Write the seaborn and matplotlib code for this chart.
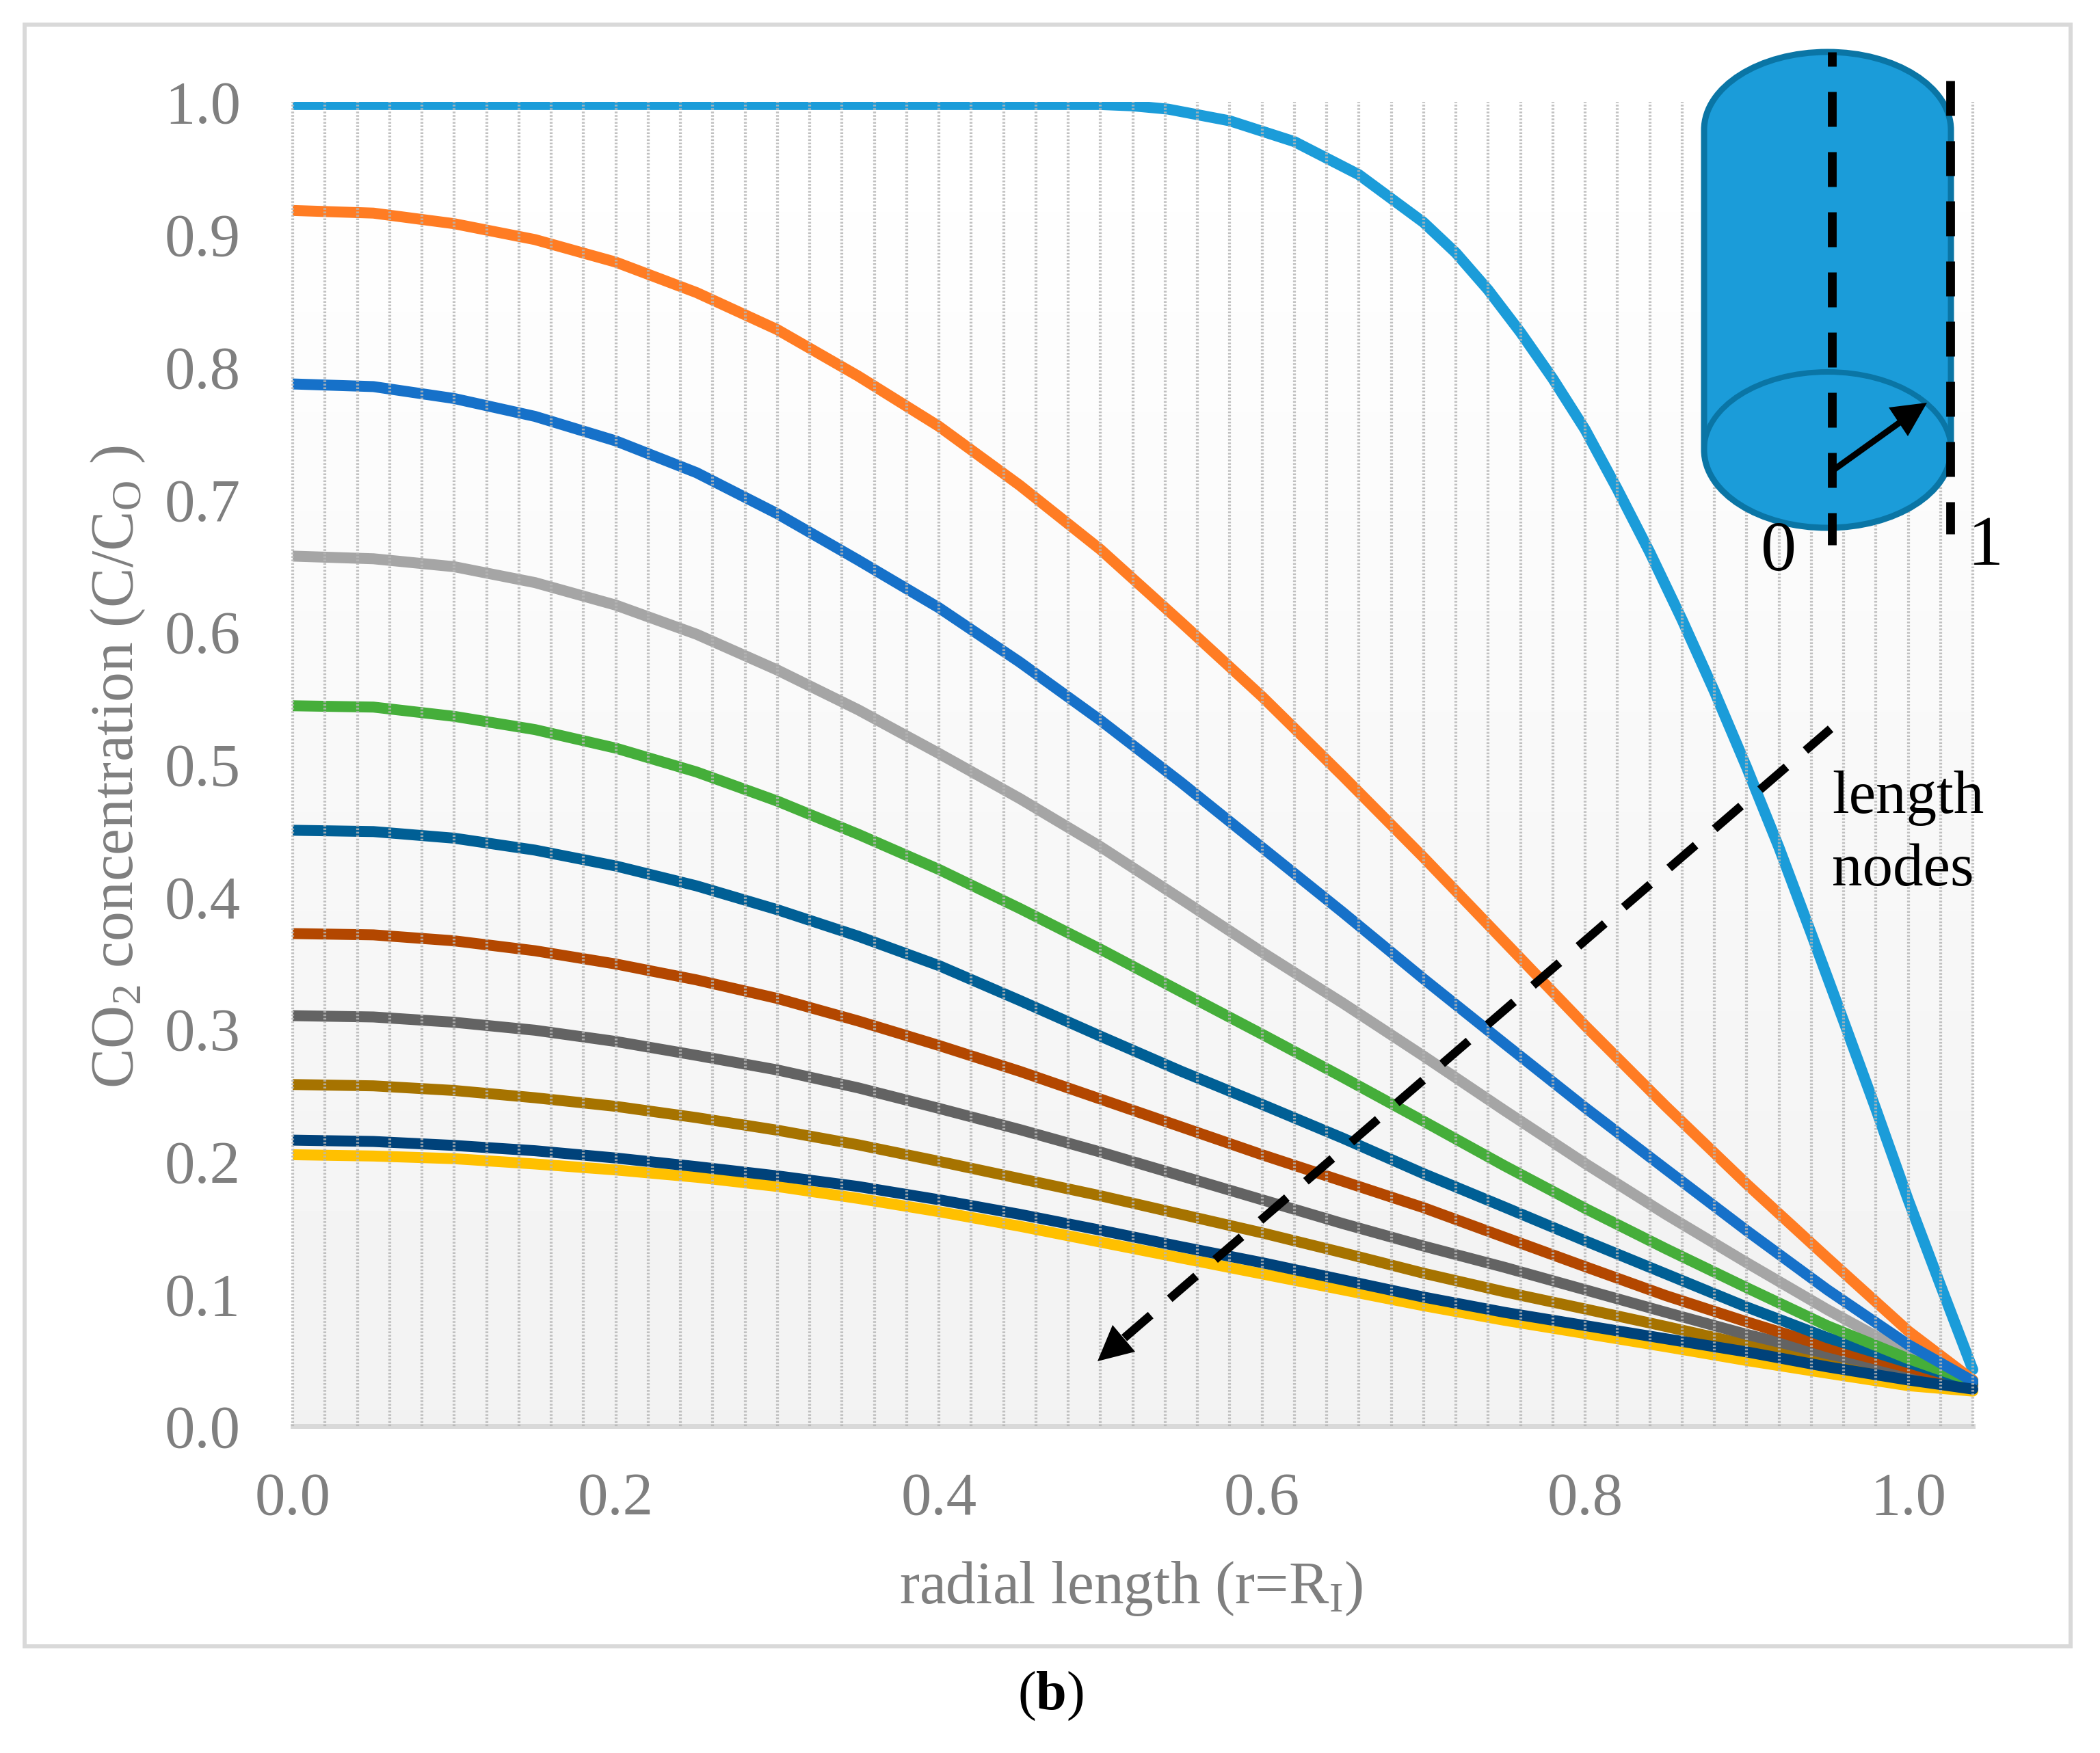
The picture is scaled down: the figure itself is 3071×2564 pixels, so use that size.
import numpy as np
import pandas as pd
import matplotlib
matplotlib.use("Agg")
import matplotlib.pyplot as plt
import seaborn as sns
from matplotlib.patches import Rectangle, PathPatch, Polygon
from matplotlib.path import Path

W, H = 3071, 2564
sns.set_theme(style="white")
plt.rcParams['font.family'] = ['Liberation Serif', 'DejaVu Serif']
plt.rcParams['mathtext.fontset'] = 'custom'
plt.rcParams['mathtext.rm'] = 'Liberation Serif'
plt.rcParams['mathtext.it'] = 'Liberation Serif:italic'
plt.rcParams['mathtext.bf'] = 'Liberation Serif:bold'

# ---- data ----
r_first = [0, .1, .2, .3, .4, .5, .52, .542, .58, .62, .66, .70, .72, .74, .76, .78, .80, .82, .84, .86, .88,
           .90, .92, .94, .96, .98, 1.0, 1.02, 1.04]
v_first = [.998, .998, .998, .998, .998, .998, .997, .9945, .9857, .970, .945, .909, .886, .858, .826, .791, .7526,
           .7075, .660, .609, .555, .4975, .437, .372, .306, .2395, .1709, .1064, .0427]

r_nodes = [0, .05, .1, .15, .2, .25, .3, .35, .4, .45, .5, .55, .6, .65, .7, .75, .8, .85, .9, .95, 1.0, 1.04]
v_orange = [.918, .916, .908, .896, .879, .856, .828, .793, .755, .7105, .662, .607, .551, .491, .4295, .366, .3025, .2415, .1829, .127, .0719, .0349]
v_blue = [.787, .785, .776, .7625, .744, .720, .689, .654, .618, .577, .533, .486, .437, .388, .3378, .289, .2406, .194, .1477, .103, .0616, .034]
v_gray = [.657, .655, .649, .637, .620, .598, .571, .541, .508, .474, .4376, .398, .358, .3195, .2795, .2385, .1984, .160, .1235, .088, .0547, .034]
v_green = [.544, .543, .536, .526, .512, .494, .472, .447, .4204, .391, .3602, .328, .296, .2635, .2303, .1967, .1645, .134, .1046, .0758, .051, .034]
v_dkblue = [.45, .449, .444, .435, .423, .408, .390, .370, .3478, .3215, .2945, .268, .243, .2175, .1907, .1655, .14, .115, .09, .0668, .048, .033]
v_brown = [.372, .371, .3665, .359, .349, .337, .323, .306, .2875, .268, .247, .226, .205, .185, .165, .1427, .1205, .0986, .0788, .060, .0444, .033]
v_dkgray = [.31, .309, .305, .299, .2905, .28, .269, .2555, .240, .224, .207, .189, .171, .153, .136, .120, .103, .086, .0693, .0547, .0418, .032]
v_gold = [.258, .257, .2535, .248, .2415, .233, .2235, .2125, .2, .187, .174, .16, .146, .131, .1155, .1015, .0885, .0753, .0616, .05, .040, .031]
v_navy = [.216, .215, .212, .208, .2025, .196, .189, .181, .171, .16, .148, .1355, .1235, .1105, .0975, .086, .076, .066, .0561, .0448, .0349, .028]
v_yellow = [.205, .204, .202, .198, .1935, .188, .181, .172, .162, .151, .139, .127, .115, .103, .091, .080, .070, .0600, .0496, .040, .0306, .0265]

node_series = {"n10": v_yellow, "n1": v_orange, "n2": v_blue, "n3": v_gray, "n4": v_green,
               "n5": v_dkblue, "n6": v_brown, "n7": v_dkgray, "n8": v_gold, "n9": v_navy}
colors = {"n0": "#1B9CD9", "n1": "#FF7C23", "n2": "#1671C9", "n3": "#A5A5A5", "n4": "#45AE3A",
          "n5": "#005F95", "n6": "#B34700", "n7": "#636363", "n8": "#A67300", "n9": "#00427A", "n10": "#FFC000"}
draw_order = ["n10", "n0", "n1", "n3", "n8", "n7", "n6", "n5", "n4", "n2", "n9"]

xticks = [0, .2, .4, .6, .8, 1.0]
yticks = [0, .1, .2, .3, .4, .5, .6, .7, .8, .9, 1.0]

frames = [pd.DataFrame({"r": r_first, "c": v_first, "node": "n0"})]
for k, v in node_series.items():
    frames.append(pd.DataFrame({"r": r_nodes, "c": v, "node": k}))
df = pd.concat(frames, ignore_index=True)

# ---- layout in pixels ----
AL, AR, AT, AB = 428, 2885, 149, 2086
GRAY = "#7F7F7F"
FS = 64
px = 0.72

fig = plt.figure(figsize=(W / 100, H / 100), dpi=100, facecolor="white")
ax = fig.add_axes([AL / W, 1 - AB / H, (AR - AL) / W, (AB - AT) / H])
ax.set_xlim(0, 1.04)
ax.set_ylim(0, 1)
ax.set_facecolor("white")

grad = np.linspace(255, 242, 64).reshape(-1, 1)
ax.imshow(grad, extent=(0, 1.04, 0, 1), origin="upper", aspect="auto", cmap="gray",
          vmin=0, vmax=255, zorder=0, interpolation="bilinear")

sns.lineplot(data=df, x="r", y="c", hue="node", hue_order=draw_order, palette=colors,
             estimator=None, sort=False, legend=False, linewidth=16 * px, ax=ax, zorder=2)
clip = Rectangle((0, 0), 1.06, 1, transform=ax.transData)
for ln in ax.lines:
    ln.set_solid_capstyle("round")
    ln.set_solid_joinstyle("round")
    ln.set_clip_path(clip)

for g in np.arange(0, 53) * 0.02:
    ax.axvline(g, color="#B6B6B6", lw=4.2 * px, ls=(0, (0.6, 0.6)), zorder=3, alpha=.85, clip_on=False)

for s in ["top", "right", "left"]:
    ax.spines[s].set_visible(False)
ax.spines["bottom"].set_color("#D9D9D9")
ax.spines["bottom"].set_linewidth(7 * px)
ax.spines["bottom"].set_zorder(1)

ax.set_xticks(xticks, [f"{t:.1f}" for t in xticks])
ax.set_yticks(yticks, [f"{t:.1f}" for t in yticks])
ax.tick_params(axis="both", length=0, labelsize=FS, labelcolor=GRAY)
ax.tick_params(axis="x", pad=67 * px)
ax.tick_params(axis="y", pad=76 * px)
ax.grid(False)
ax.set_xlabel(r"radial length (r=R$_{\mathrm{I}}$)", fontsize=63, color=GRAY)
ax.set_ylabel(r"CO$_{2}$ concentration (C/C$_{\mathrm{O}}$ )", fontsize=63, color=GRAY)
to_ax = ax.transAxes.inverted()
def axc(x, y):
    return to_ax.transform((x, H - y))
ax.xaxis.set_label_coords(*axc(1654, 2323))
ax.xaxis.label.set_va("center")
ax.yaxis.set_label_coords(*axc(173, 1121))
ax.yaxis.label.set_va("center")

# ---- overlay in pixel coordinates: frame, inset drawing, annotations ----
ov = fig.add_axes([0, 0, 1, 1], zorder=5)
ov.set_xlim(0, W)
ov.set_ylim(H, 0)
ov.axis("off")
ov.patch.set_alpha(0)

ov.add_patch(Rectangle((36, 36), 3028 - 36, 2408 - 36, fill=False, ec="#D9D9D9", lw=6 * px))

# cylinder
CL, CR, CT, CB, SH = 2492, 2853, 190, 658, 114
CX = (CL + CR) / 2
k = 0.5523
RX = (CR - CL) / 2
body = Path(
    [(CL, CB), (CL, CT),
     (CL, CT - k * SH), (CX - k * RX, CT - SH), (CX, CT - SH),
     (CX + k * RX, CT - SH), (CR, CT - k * SH), (CR, CT),
     (CR, CB),
     (CR, CB + k * SH), (CX + k * RX, CB + SH), (CX, CB + SH),
     (CX - k * RX, CB + SH), (CL, CB + k * SH), (CL, CB),
     (CL, CB)],
    [Path.MOVETO, Path.LINETO, Path.CURVE4, Path.CURVE4, Path.CURVE4, Path.CURVE4, Path.CURVE4, Path.CURVE4,
     Path.LINETO, Path.CURVE4, Path.CURVE4, Path.CURVE4, Path.CURVE4, Path.CURVE4, Path.CURVE4, Path.CLOSEPOLY])
ov.add_patch(PathPatch(body, fc="#1B9CD9", ec="#0A75A5", lw=9 * px))
rim = Path(
    [(CL, CB), (CL, CB - k * SH), (CX - k * RX, CB - SH), (CX, CB - SH),
     (CX + k * RX, CB - SH), (CR, CB - k * SH), (CR, CB)],
    [Path.MOVETO, Path.CURVE4, Path.CURVE4, Path.CURVE4, Path.CURVE4, Path.CURVE4, Path.CURVE4])
ov.add_patch(PathPatch(rim, fc="none", ec="#0A75A5", lw=8 * px))

LW = 12.8
on, off = 51 / LW, 37 / LW
ov.plot([2679, 2679], [76, 797], color="black", lw=LW * px, ls=(30 / LW, (on, off)), dash_capstyle="butt")
ov.plot([2852, 2852], [118, 781], color="black", lw=LW * px, ls=(0, (on, off)), dash_capstyle="butt")
ov.plot([2679, 2778], [689, 618], color="black", lw=9 * px, solid_capstyle="butt")
ov.add_patch(Polygon([(2818, 589), (2762, 596), (2790, 638)], closed=True, fc="black", ec="none"))
ov.text(2601, 809, "0", fontsize=75, color="black", ha="center", va="center")
ov.text(2904, 801, "1", fontsize=75, color="black", ha="center", va="center")

# length-node arrow
ov.plot([2677, 1644], [1066, 1957], color="black", lw=12.5 * px, ls=(2.5 / 12.5, (51 / 12.5, 36.7 / 12.5)), dash_capstyle="butt")
ov.add_patch(Polygon([(1605, 1991), (1627, 1938), (1660, 1977)], closed=True, fc="black", ec="none"))
ov.text(2679, 1189, "length", fontsize=64, color="black", ha="left", va="baseline")
ov.text(2679, 1295, "nodes", fontsize=64, color="black", ha="left", va="baseline")

ov.text(1536, 2481, r"($\mathbf{b}$)", fontsize=58, color="black", ha="center", va="center")

fig.savefig("out.png", dpi=100, facecolor="white")
